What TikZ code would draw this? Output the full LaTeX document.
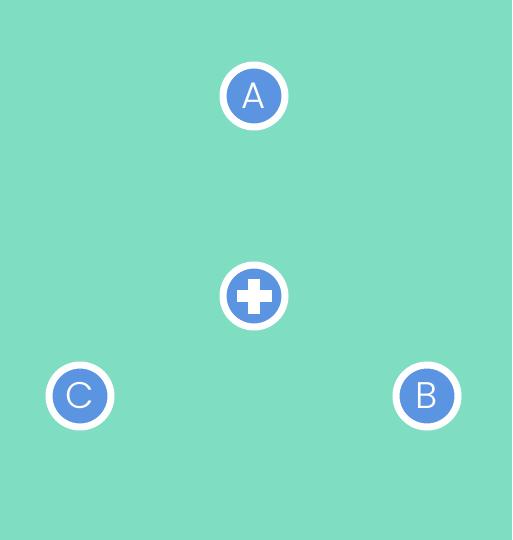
\documentclass[tikz,border=0pt]{standalone}
\usepackage{fontspec}
\newfontfamily\lightfont{Poppins Light}
\definecolor{bg}{RGB}{127,221,194}
\definecolor{blueb}{RGB}{91,148,224}
\begin{document}
\begin{tikzpicture}[x=1pt,y=-1pt,
  badge/.style={circle,fill=blueb,draw=white,line width=7pt,minimum size=62pt,inner sep=0pt,
    text=white,font=\lightfont\fontsize{37}{37}\selectfont}]
\fill[bg] (0,0) rectangle (512,540);
\useasboundingbox (0,0) rectangle (512,540);
\node[badge] (a) at (254,96) {\raisebox{1pt}{A}};
\node[badge] (p) at (254,296) {};
\node[badge] (c) at (80,396) {\raisebox{1pt}{C}};
\node[badge] (b) at (427,396) {\raisebox{1pt}{B}};
\fill[white] ([xshift=-17.5pt,yshift=-6pt]p.center) rectangle ([xshift=17.5pt,yshift=6pt]p.center);
\fill[white] ([xshift=-6pt,yshift=-17.5pt]p.center) rectangle ([xshift=6pt,yshift=17.5pt]p.center);
\end{tikzpicture}
\end{document}
